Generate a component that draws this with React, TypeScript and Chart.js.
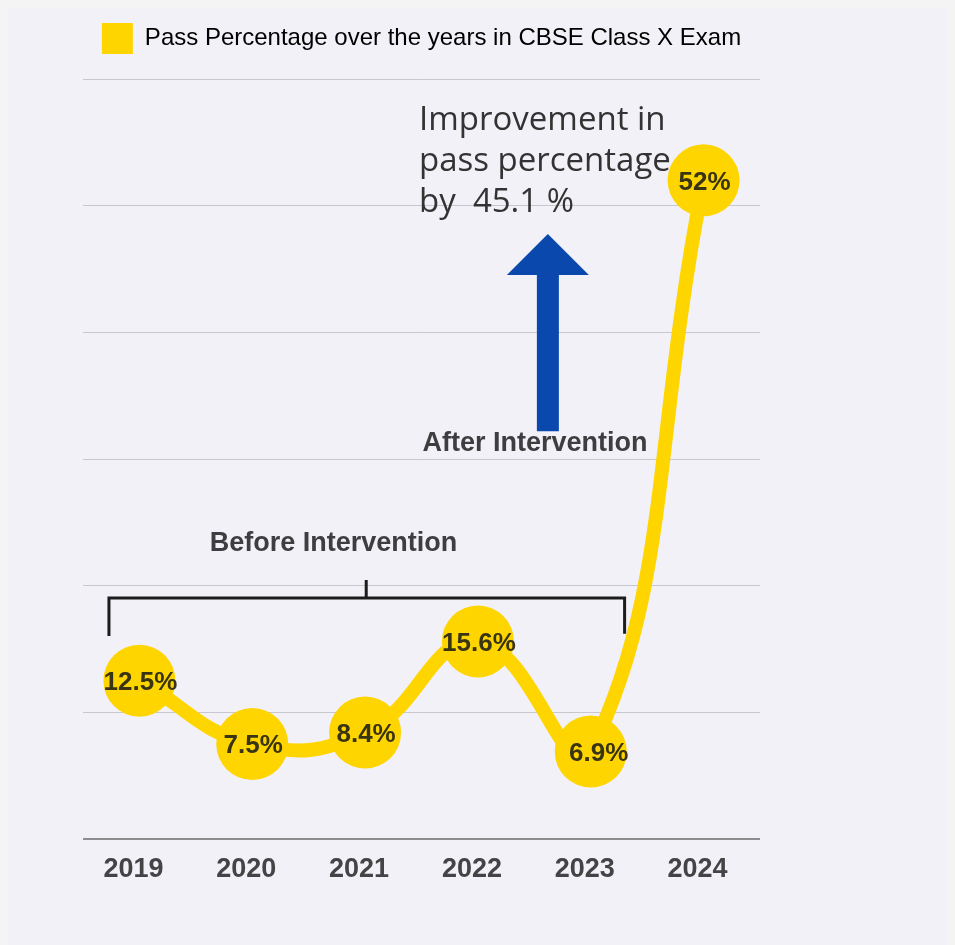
import React, { useEffect, useRef } from "react";
import { Chart, registerables } from "chart.js";

Chart.register(...registerables);

const years = ["2019", "2020", "2021", "2022", "2023", "2024"];
const passPct = [12.5, 7.5, 8.4, 15.6, 6.9, 52];
const pointLabels = ["12.5%", "7.5%", "8.4%", "15.6%", "6.9%", "52%"];
const seriesName = "Pass Percentage over the years in CBSE Class X Exam";
const improvementLines = ["Improvement in", "pass percentage", "by  45.1 %"];
const beforeText = "Before Intervention";
const afterText = "After Intervention";

const YELLOW = "#FFD500";
const BLUE = "#0A48AD";

const annotationsPlugin = {
  id: "annotations",
  afterDatasetsDraw(chart: any) {
    const ctx = chart.ctx;
    const xs = chart.scales.x;
    const ys = chart.scales.y;
    const step = xs.getPixelForValue(1) - xs.getPixelForValue(0);
    const X = (i: number) => xs.getPixelForValue(0) + i * step;
    const Y = (v: number) => ys.getPixelForValue(v);

    // point labels
    const meta = chart.getDatasetMeta(0);
    ctx.save();
    ctx.font = "bold 26px 'Liberation Sans', Arial, sans-serif";
    ctx.fillStyle = "rgba(40,38,20,0.92)";
    ctx.textAlign = "center";
    ctx.textBaseline = "middle";
    meta.data.forEach((pt: any, i: number) => {
      ctx.fillText(pointLabels[i], pt.x + (i === 4 ? 8 : 1), pt.y + 2);
    });
    ctx.restore();

    // improvement text
    ctx.save();
    ctx.font = "400 33px 'Open Sans', sans-serif";
    ctx.fillStyle = "#333333";
    ctx.textAlign = "left";
    ctx.textBaseline = "alphabetic";
    improvementLines.forEach((t, k) => {
      ctx.fillText(t, X(2.478), Y(56.0) + k * 41);
    });
    ctx.restore();

    // arrow
    const ax = X(3.62);
    ctx.save();
    ctx.fillStyle = BLUE;
    ctx.beginPath();
    ctx.moveTo(ax, Y(47.76));
    ctx.lineTo(ax + 41, Y(44.53));
    ctx.lineTo(ax + 11, Y(44.53));
    ctx.lineTo(ax + 11, Y(32.2));
    ctx.lineTo(ax - 11, Y(32.2));
    ctx.lineTo(ax - 11, Y(44.53));
    ctx.lineTo(ax - 41, Y(44.53));
    ctx.closePath();
    ctx.fill();
    ctx.restore();

    // intervention labels
    ctx.save();
    ctx.font = "bold 27px 'Liberation Sans', Arial, sans-serif";
    ctx.fillStyle = "#3e3e40";
    ctx.textAlign = "center";
    ctx.textBaseline = "middle";
    ctx.fillText(afterText, X(3.506), Y(31.2));
    ctx.fillText(beforeText, X(1.72), Y(23.3));
    ctx.restore();

    // bracket
    ctx.save();
    ctx.strokeStyle = "#1c1c1c";
    ctx.lineWidth = 3;
    ctx.lineJoin = "miter";
    ctx.beginPath();
    ctx.moveTo(X(-0.27), Y(16.03));
    ctx.lineTo(X(-0.27), Y(19.03));
    ctx.lineTo(X(4.3), Y(19.03));
    ctx.lineTo(X(4.3), Y(16.2));
    ctx.moveTo(X(2.01), Y(19.03));
    ctx.lineTo(X(2.01), Y(20.45));
    ctx.stroke();
    ctx.restore();
  },
};

const legendSpacePlugin = {
  id: "legendSpace",
  beforeInit(chart: any) {
    const legend = chart.legend;
    if (!legend) return;
    const origFit = legend.fit;
    legend.fit = function () {
      origFit.call(this);
      this.height += 15;
    };
  },
};

export default function App() {
  const ref = useRef<HTMLCanvasElement | null>(null);

  useEffect(() => {
    document.body.style.background = "#f4f4f4";
    document.body.style.overflow = "hidden";
    const canvas = ref.current;
    if (!canvas) return;
    const chart = new Chart(canvas, {
      type: "line",
      data: {
        labels: years,
        datasets: [
          {
            label: seriesName,
            data: passPct,
            borderColor: YELLOW,
            backgroundColor: YELLOW,
            borderWidth: 14,
            tension: 0.45,
            pointRadius: 36,
            pointHoverRadius: 36,
            pointBorderWidth: 0,
            pointBackgroundColor: YELLOW,
            clip: false as any,
          },
        ],
      },
      options: {
        animation: false,
        responsive: false,
        maintainAspectRatio: false,
        layout: { padding: { left: 75, right: 187, top: 0, bottom: 0 } },
        plugins: {
          legend: {
            display: true,
            position: "top",
            labels: {
              boxWidth: 31,
              boxHeight: 31,
              padding: 15,
              color: "#222222",
              font: { size: 24, family: "'Liberation Sans', Arial, sans-serif" },
              generateLabels: () => [
                {
                  text: seriesName,
                  fillStyle: YELLOW,
                  strokeStyle: YELLOW,
                  lineWidth: 0,
                  hidden: false,
                  datasetIndex: 0,
                } as any,
              ],
            },
          },
          tooltip: { enabled: false },
        },
        scales: {
          x: {
            offset: true,
            grid: { display: false, drawTicks: false },
            border: { display: false },
            afterFit: (scale: any) => {
              scale.height = 98;
            },
            ticks: {
              padding: 14,
              labelOffset: -6,
              color: "#444446",
              font: { size: 27, weight: "bold", family: "'Liberation Sans', Arial, sans-serif" },
            },
          },
          y: {
            min: 0,
            max: 60,
            ticks: { display: false, stepSize: 10 },
            border: { display: false },
            grid: {
              drawTicks: false,
              color: (c: any) => (c.tick && c.tick.value === 0 ? "#8d8d90" : "#c8c8cc"),
              lineWidth: (c: any) => (c.tick && c.tick.value === 0 ? 2 : 1),
            },
          },
        },
      },
      plugins: [legendSpacePlugin, annotationsPlugin],
    });
    return () => chart.destroy();
  }, []);

  return (
    <div style={{ width: 960, height: 945, background: "#f1f1f7", position: "relative" }}>
      <canvas ref={ref} width={939} height={929} style={{ display: "block" }} />
    </div>
  );
}
